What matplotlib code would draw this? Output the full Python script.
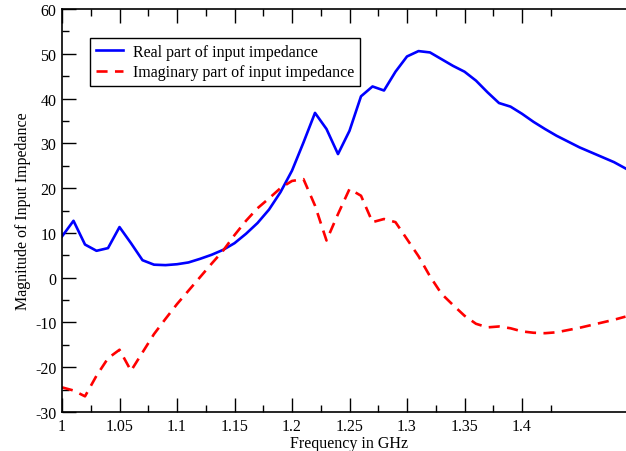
import numpy as np
import matplotlib
matplotlib.use("Agg")
import matplotlib.pyplot as plt
from matplotlib.ticker import FixedLocator, MultipleLocator

plt.rcParams['font.family'] = ['Liberation Serif', 'DejaVu Serif']
plt.rcParams['font.size'] = 11.5
plt.rcParams['axes.unicode_minus'] = False

# frequency sweep, 10 MHz steps
freq = np.round(np.arange(1.00, 1.495, 0.01), 2)

real_part = [9.2, 12.7, 7.4, 6.0, 6.6, 11.3, 7.7, 3.9, 2.9, 2.8,
             3.0, 3.4, 4.2, 5.1, 6.2, 7.7, 9.8, 12.2, 15.2, 19.1,
             23.9, 30.2, 36.8, 33.2, 27.6, 32.8, 40.5, 42.7, 41.8, 46.0,
             49.4, 50.6, 50.3, 48.8, 47.3, 46.0, 44.0, 41.4, 39.0, 38.2,
             36.6, 34.8, 33.2, 31.7, 30.4, 29.1, 28.0, 26.9, 25.8, 24.4]

imag_part = [-24.5, -25.2, -26.5, -21.9, -18.0, -16.1, -20.8, -16.7, -12.6, -9.2,
             -5.9, -2.9, 0.1, 3.1, 6.0, 9.5, 12.7, 15.5, 17.7, 20.0,
             21.6, 22.0, 16.1, 8.3, 14.2, 19.8, 18.3, 12.4, 13.1, 12.4,
             8.6, 4.8, 0.3, -3.6, -6.1, -8.5, -10.3, -11.1, -10.9, -11.3,
             -12.0, -12.3, -12.4, -12.2, -11.7, -11.2, -10.6, -10.0, -9.4, -8.7]

fig = plt.figure(figsize=(6.26, 4.52), dpi=100)
ax = fig.add_axes([62/626, 1 - 413/452, 575/626, 403/452])

ax.plot(freq, real_part, color='#0000ff', lw=1.9, label='Real part of input impedance')
ax.plot(freq, imag_part, color='#ff0000', lw=1.9, ls=(0, (4.2, 2.8)),
        label='Imaginary part of input impedance')

ax.set_xlim(1.0, 1.5)
ax.set_ylim(-30, 60)
ax.xaxis.set_major_locator(FixedLocator(np.arange(1.0, 1.401, 0.05)))
ax.xaxis.set_minor_locator(FixedLocator(np.arange(1.025, 1.426, 0.05)))
ax.set_xticklabels(['1', '1.05', '1.1', '1.15', '1.2', '1.25', '1.3', '1.35', '1.4'])
ax.yaxis.set_major_locator(MultipleLocator(10))
ax.yaxis.set_minor_locator(MultipleLocator(5))
ax.tick_params(which='both', direction='in', top=True, right=False, labelsize=11.5)
ax.tick_params(which='major', length=10, width=1, pad=4)
ax.tick_params(which='minor', length=5, width=1)
ax.spines['right'].set_visible(False)
for s in ('left', 'top', 'bottom'):
    ax.spines[s].set_linewidth(1.2)

ax.set_xlabel('Frequency in GHz', labelpad=1)
ax.set_ylabel('Magnitude of Input Impedance', labelpad=3)

leg = ax.legend(loc='upper left', bbox_to_anchor=(0.0487, 0.928), borderaxespad=0,
                fancybox=False, framealpha=1, edgecolor='black', fontsize=11.5,
                handlelength=1.7, handletextpad=0.65, borderpad=0.35, labelspacing=0.3)
leg.get_frame().set_linewidth(1.0)

fig.savefig('out.png', dpi=100)
